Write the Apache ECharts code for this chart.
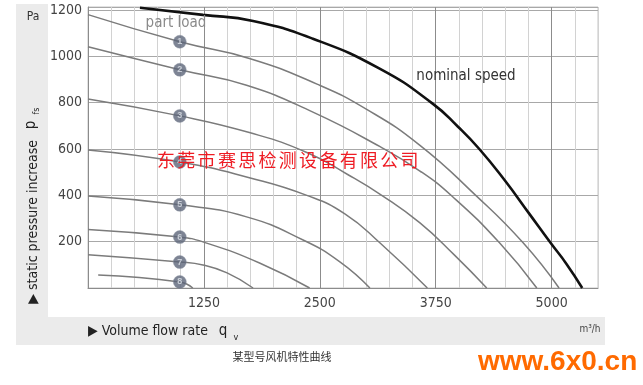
<!DOCTYPE html>
<html><head><meta charset="utf-8">
<script src="https://cdn.jsdelivr.net/npm/echarts@6/dist/echarts.min.js"></script>
<style>html,body{margin:0;padding:0;background:#fff}#c{width:643px;height:385px}</style>
</head><body><div id="c"></div>
<script>
// ---- data (volume flow q in m³/h, static pressure p in Pa) ----
const xTickLabels = [1250, 2500, 3750, 5000];
const yTickLabels = [200, 400, 600, 800, 1000, 1200];

const nominalQ = [560, 1240, 1780, 2425, 3150, 3720, 3990, 4220, 4490, 4760, 4990, 5160, 5330];
const nominalP = [1210, 1179, 1153, 1076, 946, 795, 696, 600, 467, 320, 194, 104, 0];

const load1Q = [0, 990, 1750, 2470, 3010, 3580, 4170, 4690, 5080];
const load1P = [1180, 1063, 990, 880, 770, 616, 404, 196, 0];
const load2Q = [0, 990, 1710, 2420, 3150, 3580, 3930, 4440, 4840];
const load2P = [1041, 942, 875, 760, 610, 505, 395, 194, 0];
const load3Q = [0, 990, 1750, 2360, 2800, 3180, 3580, 3950, 4300];
const load3P = [816, 743, 670, 585, 490, 397, 281, 143, 0];
const load4Q = [0, 990, 1750, 2360, 2770, 3150, 3660];
const load4P = [596, 544, 475, 400, 320, 194, 0];
const load5Q = [0, 990, 1710, 2320, 2720, 3040];
const load5P = [397, 359, 307, 207, 112, 0];
const load6Q = [0, 990, 1240, 1850, 2390];
const load6P = [252, 220, 199, 108, 0];
const load7Q = [0, 990, 1240, 1500, 1780];
const load7P = [143, 112, 99, 65, 0];
const load8Q = [110, 990, 1130];
const load8P = [56, 26, 0];

const markerQ = 990;
const markerP = [1063, 942, 743, 544, 359, 220, 112, 26];
const markerNames = ['1', '2', '3', '4', '5', '6', '7', '8'];

const watermark = '东莞市赛思检测设备有限公司';

// ---- build ----
const NARROW = '"Liberation Sans Narrow","Arial Narrow","DejaVu Sans Condensed",sans-serif';
const zip = (q, p) => q.map((v, i) => [v, p[i]]);
const loads = [[load1Q, load1P], [load2Q, load2P], [load3Q, load3P], [load4Q, load4P],
               [load5Q, load5P], [load6Q, load6P], [load7Q, load7P], [load8Q, load8P]];

const series = loads.map(([q, p], i) => ({
  type: 'line', name: 'load' + (i + 1), data: zip(q, p), showSymbol: false,
  smooth: 0.5, lineStyle: { color: '#7b7b7b', width: 1.5 }, z: 3, silent: true
}));
series.push({
  type: 'line', name: 'nominal', data: zip(nominalQ, nominalP), showSymbol: false,
  smooth: 0.5, lineStyle: { color: '#111', width: 2.6 }, z: 4, silent: true
});
series.push({
  type: 'scatter', data: markerP.map((p, i) => ({ value: [markerQ, p], name: markerNames[i] })),
  symbolSize: 13, itemStyle: { color: '#5d6579', borderColor: '#8a90a0', borderWidth: 0.5 }, z: 6,
  label: { show: true, position: 'inside', formatter: '{b}', color: '#dfe3ea', fontSize: 9, fontWeight: 'bold', fontFamily: 'Liberation Sans' }
});

const graphics = [
  { type: 'rect', shape: { x: 16, y: 4, width: 32, height: 341 }, style: { fill: '#ebebeb' }, z: -10 },
  { type: 'rect', shape: { x: 16, y: 317, width: 589, height: 28 }, style: { fill: '#ebebeb' }, z: -10 },
  { type: 'text', x: 33, y: 17, style: { text: 'Pa', fontSize: 12, fontFamily: NARROW, fill: '#333', textAlign: 'center', textVerticalAlign: 'middle' } },
  { type: 'text', x: 33, y: 140, rotation: Math.PI / 2, style: { text: '▶ static pressure increase', fontSize: 14, fontFamily: NARROW, fill: '#222', textAlign: 'right', textVerticalAlign: 'middle' } },
  { type: 'text', x: 31, y: 125, rotation: Math.PI / 2, style: { text: 'p', fontSize: 15, fontFamily: NARROW, fill: '#222', textAlign: 'center', textVerticalAlign: 'middle' } },
  { type: 'text', x: 37, y: 111, rotation: Math.PI / 2, style: { text: 'fs', fontSize: 9, fontFamily: NARROW, fill: '#222', textAlign: 'center', textVerticalAlign: 'middle' } },
  { type: 'text', x: 88, y: 331, style: { text: '▶ Volume flow rate', fontSize: 14, fontFamily: NARROW, fill: '#222', textAlign: 'left', textVerticalAlign: 'middle' } },
  { type: 'text', x: 223, y: 331, style: { text: 'q', fontSize: 15, fontFamily: NARROW, fill: '#222', textAlign: 'center', textVerticalAlign: 'middle' } },
  { type: 'text', x: 236, y: 338, style: { text: 'v', fontSize: 9, fontFamily: NARROW, fill: '#222', textAlign: 'center', textVerticalAlign: 'middle' } },
  { type: 'text', x: 590, y: 329, style: { text: 'm³/h', fontSize: 10, fontFamily: NARROW, fill: '#444', textAlign: 'center', textVerticalAlign: 'middle' } },
  { type: 'text', x: 282, y: 357, style: { text: '某型号风机特性曲线', fontSize: 11, fontFamily: '"Noto Sans CJK SC",sans-serif', fill: '#333', textAlign: 'center', textVerticalAlign: 'middle' } },
  { type: 'text', x: 478, y: 362, style: { text: 'www.6x0.cn', fontSize: 28, fontWeight: 'bold', fontFamily: '"Liberation Sans",Arial,sans-serif', fill: '#ff6a00', textAlign: 'left', textVerticalAlign: 'middle' } },
  { type: 'text', x: 176, y: 23, style: { text: 'part load', fontSize: 15, fontFamily: NARROW, fill: '#8a8a8a', textAlign: 'center', textVerticalAlign: 'middle' }, z: 10 },
  { type: 'text', x: 466, y: 76, style: { text: 'nominal speed', fontSize: 15, fontFamily: NARROW, fill: '#333', textAlign: 'center', textVerticalAlign: 'middle' }, z: 10 }
];
Array.from(watermark).forEach((ch, i) => {
  graphics.push({ type: 'text', x: 166 + i * 20.3, y: 160, z: 20,
    style: { text: ch, fontSize: 18, fontFamily: '"Noto Sans CJK SC",sans-serif', fill: '#ee1c24', textAlign: 'center', textVerticalAlign: 'middle' } });
});

const chart = echarts.init(document.getElementById('c'), null, { renderer: 'canvas' });
chart.setOption({
  animation: false,
  backgroundColor: '#fff',
  grid: { left: 88, top: 7, width: 510, height: 281, show: true, borderColor: '#c4c4c4', borderWidth: 1, backgroundColor: 'transparent' },
  xAxis: {
    type: 'value', min: 0, max: 5500, interval: 250,
    axisLine: { show: true, lineStyle: { color: '#8c8c8c', width: 1 } },
    axisTick: { show: false },
    axisLabel: { interval: 0, hideOverlap: false, margin: 8, fontSize: 14, fontFamily: NARROW, color: '#444',
      formatter: v => xTickLabels.includes(v) ? String(v) : '' },
    splitLine: { show: true, lineStyle: { color: ['#8c8c8c', '#d2d2d2', '#d2d2d2', '#d2d2d2', '#d2d2d2'], width: 1 } }
  },
  yAxis: {
    type: 'value', min: 0, max: 1213, interval: 200,
    axisLine: { show: true, lineStyle: { color: '#8c8c8c', width: 1 } },
    axisTick: { show: false },
    axisLabel: { margin: 6, fontSize: 14, fontFamily: NARROW, color: '#444', showMaxLabel: false,
      formatter: v => yTickLabels.includes(v) ? String(v) : '' },
    splitLine: { show: true, lineStyle: { color: '#a8a8a8', width: 1 } }
  },
  series: series,
  graphic: graphics
});
</script></body></html>
